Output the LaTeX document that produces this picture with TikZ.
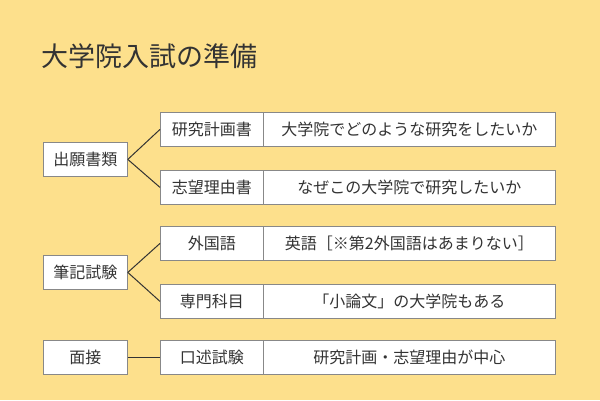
\documentclass[tikz,border=0pt]{standalone}
\usepackage{fontspec}
\setmainfont{Noto Sans CJK JP}
\definecolor{bg}{HTML}{FDE08C}
\definecolor{txt}{HTML}{333333}
\definecolor{bd}{HTML}{888888}
\begin{document}
\begin{tikzpicture}[x=1pt,y=-1pt,
  bx/.style={draw=bd,fill=white,line width=0.8pt,minimum height=34pt,inner sep=0pt,text=txt,font=\fontsize{16}{16}\selectfont,anchor=north west},
  ln/.style={draw=txt,line width=1pt}]
\fill[bg] (0,0) rectangle (600,400);
\node[text=txt,font=\fontsize{27}{27}\selectfont,anchor=west] (title) at (38,56) {大学院入試の準備};
\node[bx,minimum width=84pt] (a) at (43,142) {出願書類};
\node[bx,minimum width=84pt] (b) at (43,255) {筆記試験};
\node[bx,minimum width=84pt] (c) at (43,340) {面接};
\node[bx,minimum width=103pt] (a1) at (160,112) {研究計画書};
\node[bx,minimum width=103pt] (a2) at (160,170) {志望理由書};
\node[bx,minimum width=103pt] (b1) at (160,226) {外国語};
\node[bx,minimum width=103pt] (b2) at (160,284) {専門科目};
\node[bx,minimum width=103pt] (c1) at (160,340) {口述試験};
\node[bx,minimum width=292pt] (a1r) at (263,112) {大学院でどのような研究をしたいか};
\node[bx,minimum width=292pt] (a2r) at (263,170) {なぜこの大学院で研究したいか};
\node[bx,minimum width=292pt] (b1r) at (263,226) {英語［※第2外国語はあまりない］};
\node[bx,minimum width=292pt] (b2r) at (263,284) {「小論文」の大学院もある};
\node[bx,minimum width=292pt] (c1r) at (263,340) {研究計画・志望理由が中心};
\draw[ln] (a.east) -- (a1.west);
\draw[ln] (a.east) -- (a2.west);
\draw[ln] (b.east) -- (b1.west);
\draw[ln] (b.east) -- (b2.west);
\draw[ln] (c.east) -- (c1.west);
\end{tikzpicture}
\end{document}
